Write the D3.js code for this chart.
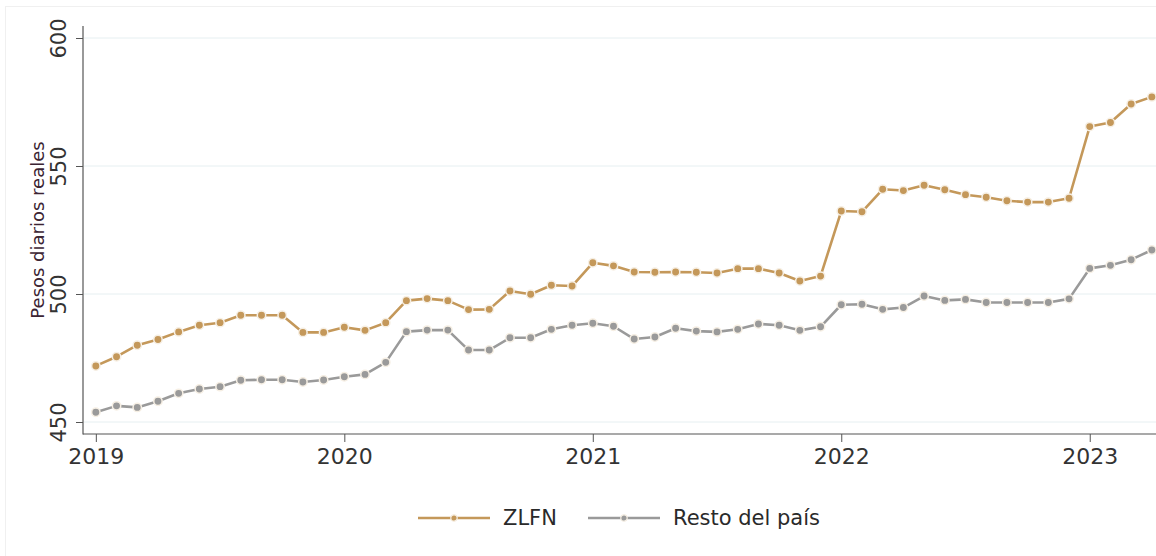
<!DOCTYPE html>
<html>
<head>
<meta charset="utf-8">
<script src="https://cdn.jsdelivr.net/npm/d3@7"></script>
<style>
  html, body { margin: 0; padding: 0; background: #fff; }
  svg { display: block; font-family: 'DejaVu Sans', 'Open Sans', sans-serif; }
</style>
</head>
<body>
<div id="chart"></div>
<script>
// salario diario real, mensual ene-2019 .. abr-2023
const yearTicks = [2019, 2020, 2021, 2022, 2023];
const startYear = 2019;
const seriesNames = ['ZLFN', 'Resto del país'];

const zlfn = [
  471.9, 475.5, 480.0, 482.2, 485.2, 487.8, 488.8, 491.7, 491.7, 491.7, 485.0, 485.0,
  487.0, 485.8, 488.8, 497.4, 498.2, 497.4, 493.9, 494.0, 501.2, 499.9, 503.4, 503.1,
  512.2, 511.0, 508.6, 508.5, 508.6, 508.5, 508.2, 509.9, 509.9, 508.2, 505.1, 507.0,
  532.4, 532.1, 540.9, 540.4, 542.5, 540.7, 538.8, 537.8, 536.4, 535.9, 535.9, 537.4,
  565.4, 567.0, 574.2, 577.0
];
const resto = [
  453.8, 456.3, 455.7, 458.1, 461.2, 462.9, 463.8, 466.3, 466.5, 466.5, 465.6, 466.4,
  467.7, 468.6, 473.3, 485.3, 485.9, 485.9, 478.1, 478.1, 482.9, 482.9, 486.2, 487.8,
  488.6, 487.4, 482.4, 483.2, 486.6, 485.5, 485.2, 486.2, 488.3, 487.8, 485.8, 487.2,
  495.8, 496.0, 494.0, 494.7, 499.2, 497.5, 497.9, 496.7, 496.7, 496.7, 496.7, 498.1,
  510.0, 511.2, 513.4, 517.2
];
const yTicks = [450, 500, 550, 600];
const colors = ['#c4985a', '#9a9a9a'];

const W = 1156, H = 556;
const svg = d3.select('#chart').append('svg').attr('width', W).attr('height', H);

// faint outer frame (top/left visible only)
svg.append('rect')
  .attr('x', 5.5).attr('y', 6.5).attr('width', W + 10).attr('height', H + 10)
  .attr('fill', 'none').attr('stroke', '#f0f0f0');

const x = d3.scaleLinear().domain([-0.62, 51.2]).range([83, 1156]);
const y = d3.scaleLinear().domain([450, 600]).range([422, 38]);

// gridlines
svg.append('g')
  .selectAll('line')
  .data(yTicks)
  .enter().append('line')
  .attr('x1', 84).attr('x2', W)
  .attr('y1', d => y(d)).attr('y2', d => y(d))
  .attr('stroke', '#e6eff1').attr('stroke-width', 1);

// y axis
const yAxis = svg.append('g')
  .attr('transform', 'translate(83,0)')
  .call(d3.axisLeft(y).tickValues(yTicks).tickSize(7).tickPadding(18).tickSizeOuter(0));
yAxis.attr('font-family', null);
yAxis.select('.domain').remove();
yAxis.selectAll('.tick line').attr('stroke', '#555');
yAxis.selectAll('.tick text')
  .attr('transform', function () {
    return 'rotate(-90,' + d3.select(this).attr('x') + ',0)';
  })
  .attr('text-anchor', 'middle')
  .attr('dy', '0.36em')
  .style('font-size', '21px')
  .style('fill', '#333');
svg.append('line')
  .attr('x1', 83).attr('x2', 83).attr('y1', 26).attr('y2', 434.5)
  .attr('stroke', '#555').attr('stroke-width', 1.2);

// y title
svg.append('text')
  .attr('transform', `translate(38,${(y(450) + y(600)) / 2}) rotate(-90)`)
  .attr('text-anchor', 'middle')
  .attr('dy', '0.35em')
  .style('font-size', '18px')
  .style('fill', '#3b2433')
  .text('Pesos diarios reales');

// x axis
const xAxis = svg.append('g')
  .attr('transform', 'translate(0,434)')
  .call(d3.axisBottom(x)
    .tickValues(yearTicks.map(yr => (yr - startYear) * 12))
    .tickFormat((d, i) => yearTicks[i])
    .tickSize(8).tickPadding(6).tickSizeOuter(0));
xAxis.attr('font-family', null);
xAxis.select('.domain').remove();
xAxis.selectAll('.tick line').attr('stroke', '#555');
xAxis.selectAll('.tick text').style('font-size', '22px').style('fill', '#333');
svg.append('line')
  .attr('x1', 83).attr('x2', W).attr('y1', 434).attr('y2', 434)
  .attr('stroke', '#555').attr('stroke-width', 1.2);

// series
const line = d3.line().x((d, i) => x(i)).y(d => y(d));
[zlfn, resto].forEach((vals, s) => {
  const g = svg.append('g');
  g.append('path')
    .datum(vals)
    .attr('d', line)
    .attr('fill', 'none')
    .attr('stroke', colors[s])
    .attr('stroke-width', 2.6)
    .attr('stroke-linejoin', 'round');
  g.selectAll('circle')
    .data(vals)
    .enter().append('circle')
    .attr('cx', (d, i) => x(i))
    .attr('cy', d => y(d))
    .attr('r', 4.2)
    .attr('fill', colors[s])
    .attr('stroke', '#f6efe4')
    .attr('stroke-width', 1.5);
});

// legend
const legendItems = [
  { name: seriesNames[0], x0: 418 },
  { name: seriesNames[1], x0: 588 }
];
const leg = svg.append('g').attr('transform', 'translate(0,518)');
legendItems.forEach((it, s) => {
  leg.append('line')
    .attr('x1', it.x0).attr('x2', it.x0 + 72).attr('y1', 0).attr('y2', 0)
    .attr('stroke', colors[s]).attr('stroke-width', 2.4);
  leg.append('circle')
    .attr('cx', it.x0 + 36).attr('cy', 0).attr('r', 3.2)
    .attr('fill', colors[s]).attr('stroke', '#f6efe4').attr('stroke-width', 1.2);
  leg.append('text')
    .attr('x', it.x0 + 85).attr('y', 0).attr('dy', '0.35em')
    .style('font-size', '21px').style('fill', '#2a2a2a')
    .text(it.name);
});
</script>
</body>
</html>
